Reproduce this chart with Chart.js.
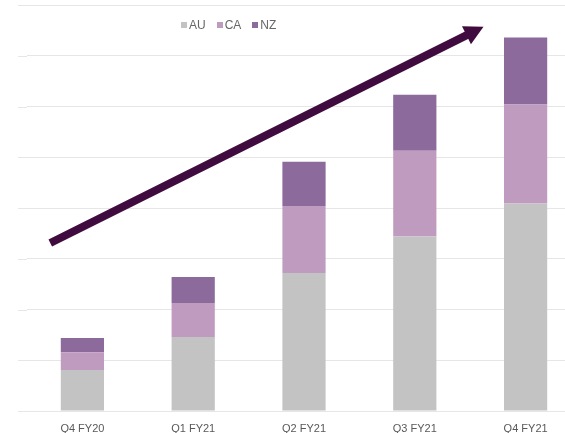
<!DOCTYPE html>
<html>
<head>
<meta charset="utf-8">
<script src="https://cdn.jsdelivr.net/npm/chart.js@4/dist/chart.umd.min.js"></script>
<style>
  html, body { margin: 0; padding: 0; background: #fff; overflow: hidden; }
  #wrap { position: relative; width: 565px; height: 433px; overflow: hidden; }
  canvas { position: absolute; left: 0; top: 0; }
  .legend {
    position: absolute; top: 18px; left: 181px;
    font-family: 'Liberation Sans', Arial, sans-serif; font-size: 12px; color: #666;
    display: flex; gap: 11px; align-items: center;
  }
  .legend span { display: flex; align-items: center; }
  .legend i { display: inline-block; width: 6px; height: 6px; margin-right: 2px; }
</style>
</head>
<body>
<div id="wrap">
  <canvas id="chart" width="600" height="433"></canvas>
  <div class="legend" id="legend"></div>
</div>
<script>
const quarters = ['Q4 FY20', 'Q1 FY21', 'Q2 FY21', 'Q3 FY21', 'Q4 FY21'];
const auValues = [0.81, 1.46, 2.72, 3.44, 4.09];
const caValues = [0.35, 0.67, 1.32, 1.69, 1.95];
const nzValues = [0.28, 0.51, 0.87, 1.10, 1.32];

// trend arrow, in category index / value units
const arrowFrom = { x: -0.29, y: 3.31 };
const arrowTo = { x: 3.62, y: 7.57 };

const series = [
  { label: 'AU', data: auValues, color: '#c3c3c3' },
  { label: 'CA', data: caValues, color: '#bf9cbf' },
  { label: 'NZ', data: nzValues, color: '#8c6a9c' }
];

document.getElementById('legend').innerHTML = series
  .map((s) => `<span><i style="background:${s.color}"></i>${s.label}</span>`)
  .join('');

// gridlines in the original run a bit further left than the first category slot
const leftGridPlugin = {
  id: 'leftGrid',
  beforeDatasetsDraw(chart) {
    const { ctx, chartArea, scales: { y } } = chart;
    ctx.save();
    ctx.strokeStyle = '#e6e6e6';
    ctx.lineWidth = 1;
    for (let v = y.min; v <= y.max; v += 1) {
      const py = Math.round(y.getPixelForValue(v)) + 0.5;
      ctx.beginPath();
      ctx.moveTo(chartArea.left - 9, py);
      ctx.lineTo(chartArea.left, py);
      ctx.stroke();
    }
    ctx.restore();
  }
};

const arrowPlugin = {
  id: 'trendArrow',
  afterDatasetsDraw(chart) {
    const { ctx, scales: { x, y } } = chart;
    const x1 = x.getPixelForValue(arrowFrom.x);
    const y1 = y.getPixelForValue(arrowFrom.y);
    const x2 = x.getPixelForValue(arrowTo.x);
    const y2 = y.getPixelForValue(arrowTo.y);
    const ang = Math.atan2(y2 - y1, x2 - x1);
    const headLen = 19;
    const headHalf = 10;
    const bx = x2 - headLen * Math.cos(ang);
    const by = y2 - headLen * Math.sin(ang);

    ctx.save();
    ctx.strokeStyle = '#400c40';
    ctx.fillStyle = '#400c40';
    ctx.lineWidth = 8;
    ctx.beginPath();
    ctx.moveTo(x1, y1);
    ctx.lineTo(bx + 2 * Math.cos(ang), by + 2 * Math.sin(ang));
    ctx.stroke();

    ctx.beginPath();
    ctx.moveTo(x2, y2);
    ctx.lineTo(bx - headHalf * Math.sin(ang), by + headHalf * Math.cos(ang));
    ctx.lineTo(bx + headHalf * Math.sin(ang), by - headHalf * Math.cos(ang));
    ctx.closePath();
    ctx.fill();
    ctx.restore();
  }
};

new Chart(document.getElementById('chart').getContext('2d'), {
  type: 'bar',
  data: {
    labels: quarters,
    datasets: series.map((s) => ({
      label: s.label,
      data: s.data,
      backgroundColor: s.color,
      borderWidth: 0,
      barPercentage: 0.39,
      categoryPercentage: 1
    }))
  },
  options: {
    responsive: false,
    animation: false,
    layout: { padding: { left: 27, right: 19, top: 5, bottom: 0 } },
    plugins: {
      legend: { display: false },
      tooltip: { enabled: false }
    },
    scales: {
      x: {
        stacked: true,
        grid: { display: false, drawTicks: false },
        border: { display: false },
        ticks: {
          padding: 11,
          color: '#595959',
          font: { family: "'Liberation Sans', Arial, sans-serif", size: 11 }
        },
        afterFit(scale) { scale.height = 22; }
      },
      y: {
        stacked: true,
        min: 0,
        max: 8,
        ticks: { display: false, stepSize: 1 },
        grid: { color: '#e6e6e6', lineWidth: 1, drawTicks: false },
        border: { display: false },
        afterFit(scale) { scale.width = 0; }
      }
    }
  },
  plugins: [leftGridPlugin, arrowPlugin]
});
</script>
</body>
</html>
